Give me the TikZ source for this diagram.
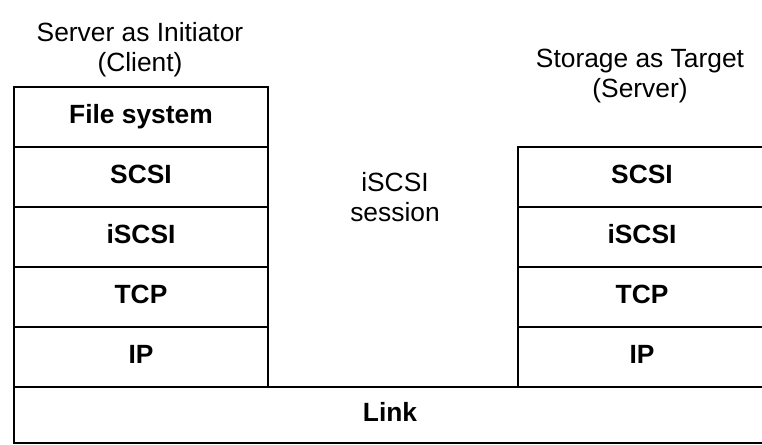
\documentclass[tikz,border=0pt]{standalone}
\usepackage{fontspec}
\setmainfont{Liberation Sans}
\usetikzlibrary{positioning}

\begin{document}
\begin{tikzpicture}[
        node distance=0cm,
        layer/.style={rectangle, draw=black, line width=1.7pt, outer sep=0pt, minimum width=5.08cm, minimum height=1.2cm, inner sep=0pt, text height=1.38ex, text depth=0ex, align=center, font=\fontsize{15}{17}\selectfont\bfseries},
        rlayer/.style={layer, minimum width=4.96cm},
        caption/.style={align=center, font=\fontsize{15}{17}\selectfont}
    ]
    \useasboundingbox (0,0) rectangle (15.24,-8.9);

    % Headings
    \node[caption] (client-label) at (2.8,-1.0) {Server as Initiator\\(Client)};
    \node[caption] (server-label) at (12.8,-1.52) {Storage as Target\\(Server)};
    \node[caption] (session) at (7.9,-3.94) {iSCSI\\session};

    % Initiator stack
    \node[layer] (fs) at (2.82,-2.34) {File system};
    \node[layer, below=of fs] (scsi-l) {SCSI};
    \node[layer, below=of scsi-l] (iscsi-l) {iSCSI};
    \node[layer, below=of iscsi-l] (tcp-l) {TCP};
    \node[layer, below=of tcp-l] (ip-l) {IP};

    % Target stack
    \node[rlayer] (scsi-r) at (12.84,-3.54) {SCSI};
    \node[rlayer, below=of scsi-r] (iscsi-r) {iSCSI};
    \node[rlayer, below=of iscsi-r] (tcp-r) {TCP};
    \node[rlayer, below=of tcp-r] (ip-r) {IP};

    % Link
    \node[layer, minimum width=15.04cm, minimum height=1.12cm] (link) at (7.8,-8.3) {Link};

\end{tikzpicture}
\end{document}
